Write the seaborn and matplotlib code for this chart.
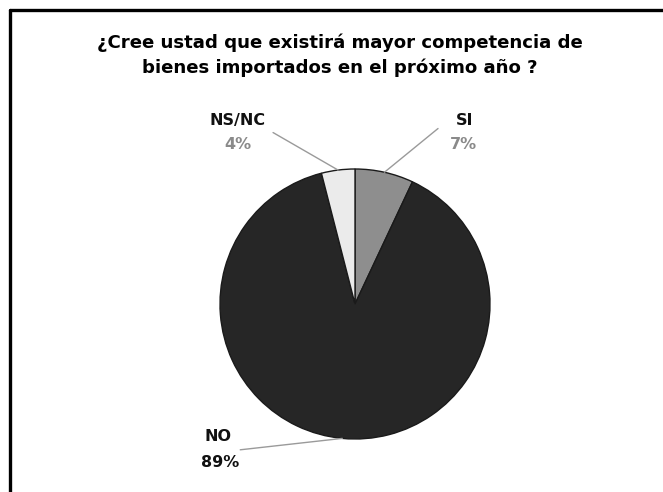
import numpy as np
import matplotlib
matplotlib.use("Agg")
import matplotlib.pyplot as plt
from matplotlib.lines import Line2D
import seaborn as sns

# Survey answers, clockwise from 12 o'clock
categories = ["SI", "NO", "NS/NC"]
shares = [7, 89, 4]
pct_labels = ["7%", "89%", "4%"]
title = "¿Cree ustad que existirá mayor competencia de\nbienes importados en el próximo año ?"

sns.set_theme(style="white")
plt.rcParams["font.family"] = ["DejaVu Sans"]

slice_colors = ["#8e8e8e", "#262626", "#ebebeb"]

W, H = 663, 492
fig = plt.figure(figsize=(W / 100, H / 100), dpi=100)
fig.patch.set_facecolor("white")

# pie centre (355, 304) px, radius 135 px
cx, cy, r = 355, 304, 135
ax = fig.add_axes([(cx - r) / W, (H - cy - r) / H, 2 * r / W, 2 * r / H])
wedges, _ = ax.pie(shares, colors=slice_colors, startangle=90, counterclock=False,
                   radius=1.0, wedgeprops=dict(edgecolor="#1a1a1a", linewidth=1.0))
ax.set_xlim(-1, 1)
ax.set_ylim(-1, 1)
ax.set_aspect("equal")
ax.axis("off")

# label anchors (data units) for name / percent and leader-line start
label_pos = {
    "SI": dict(name=(0.815, 1.36), pct=(0.80, 1.18), line=(0.615, 1.30), pct_color="#8a8a8a"),
    "NS/NC": dict(name=(-0.867, 1.36), pct=(-0.867, 1.18), line=(-0.607, 1.27), pct_color="#8a8a8a"),
    "NO": dict(name=(-1.015, -0.985), pct=(-1.0, -1.175), line=(-0.85, -1.08), pct_color="#111111"),
}

for w, cat, pct in zip(wedges, categories, pct_labels):
    mid = np.deg2rad((w.theta1 + w.theta2) / 2)
    edge = (np.cos(mid), np.sin(mid))
    p = label_pos[cat]
    ax.annotate("", xy=edge, xytext=p["line"],
                arrowprops=dict(arrowstyle="-", color="#9a9a9a", lw=1.0,
                                shrinkA=0, shrinkB=0),
                annotation_clip=False)
    ax.text(*p["name"], cat, ha="center", va="center", fontsize=11.5,
            fontweight="bold", color="#111111", clip_on=False)
    ax.text(*p["pct"], pct, ha="center", va="center", fontsize=11.5,
            fontweight="bold", color=p["pct_color"], clip_on=False)

fig.text(340 / W, (H - 55) / H, title, ha="center", va="center", fontsize=13.05,
         fontweight="bold", color="#000000", linespacing=1.42)

# open frame: top and left rules
fig.add_artist(Line2D([10 / W, 1.0], [(H - 9.5) / H, (H - 9.5) / H],
                      transform=fig.transFigure, color="black", lw=2.4))
fig.add_artist(Line2D([10 / W, 10 / W], [0.0, (H - 9.5) / H],
                      transform=fig.transFigure, color="black", lw=2.4))

fig.savefig("out.png", dpi=100, facecolor="white")
